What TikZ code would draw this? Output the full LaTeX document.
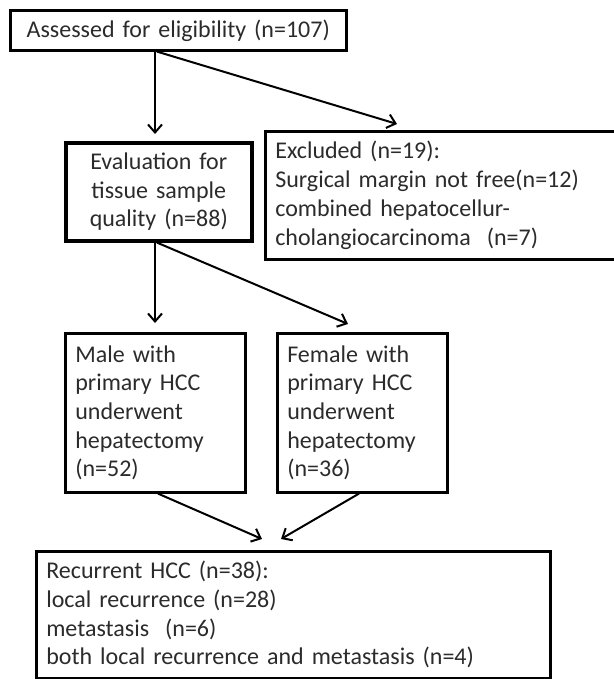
\documentclass[tikz,border=0pt]{standalone}
\usepackage{fontspec}
\setmainfont{Carlito}
\usetikzlibrary{arrows.meta,calc}
\definecolor{txt}{HTML}{2B2B2B}
\begin{document}
\begin{tikzpicture}[x=1pt,y=-1pt,
  box/.style={draw=black,line width=2.6pt,rectangle,inner xsep=10pt,inner ysep=0pt,
    text=txt,font=\fontsize{24}{28.7}\selectfont,anchor=north west,align=left},
  arr/.style={draw=black,line width=2pt,-{Straight Barb[length=8pt,width=14pt,line width=2pt]}}]
\useasboundingbox (0,0) rectangle (613,679);
\node[box,align=center,minimum width=336pt,minimum height=40pt,text width=316pt] (top) at (9,9) {Assessed for eligibility (n=107)};
\node[box,line width=3.6pt,align=center,minimum width=186pt,minimum height=98pt,text width=166pt] (eval) at (64,141) {Evaluation for\\tissue sample\\quality (n=88)};
\node[box,minimum width=352pt,minimum height=128pt,text width=332pt] (excl) at (264,130) {Excluded (n=19):\\Surgical margin not free(n=12)\\combined hepatocellur-\\cholangiocarcinoma\ \ (n=7)};
\node[box,minimum width=180pt,minimum height=159pt,text width=160pt] (male) at (64,332) {Male with\\primary HCC\\underwent\\hepatectomy\\(n=52)};
\node[box,minimum width=170pt,minimum height=159pt,text width=150pt] (female) at (276,332) {Female with\\primary HCC\\underwent\\hepatectomy\\(n=36)};
\node[box,minimum width=514pt,minimum height=127pt,text width=494pt] (bottom) at (35,550) {Recurrent HCC (n=38):\\local recurrence (n=28)\\metastasis\ \ (n=6)\\both local recurrence and metastasis (n=4)};
\draw[arr] ($(top.south west)+(146,0)$) -- ($(eval.north west)+(91,-7)$);
\draw[arr] ($(top.south west)+(148,0)$) -- ($(excl.north west)+(133,-6)$);
\draw[arr] ($(eval.south west)+(91,0)$) -- ($(male.north west)+(91,-9)$);
\draw[arr] ($(eval.south west)+(93,0)$) -- ($(female.north west)+(72,-8)$);
\draw[arr] ($(male.south west)+(94,0)$) -- ($(bottom.north west)+(227,-11)$);
\draw[arr] ($(female.south west)+(83,0)$) -- ($(bottom.north west)+(246,-11)$);
\end{tikzpicture}
\end{document}
